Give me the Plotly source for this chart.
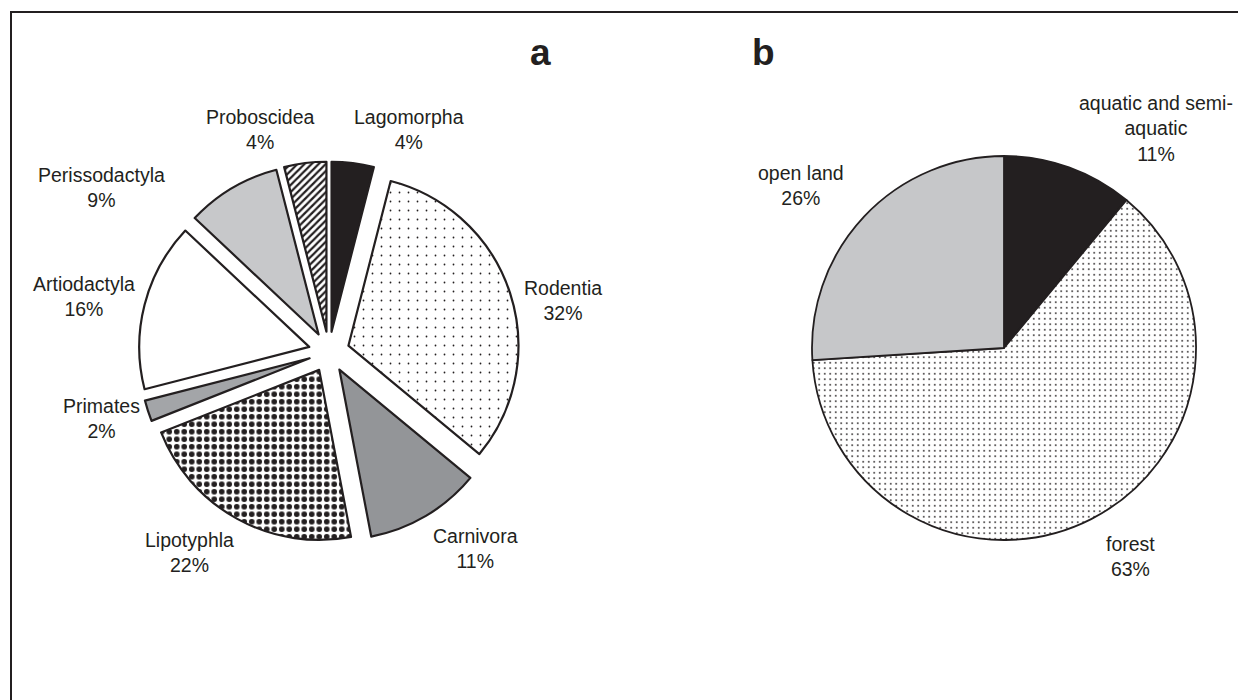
import plotly.graph_objects as go

W, H = 1246, 700
OFF = 8  # page body margin in the browser

# ---- data: panel a (orders) ----
orders = ["Lagomorpha", "Rodentia", "Carnivora", "Lipotyphla", "Primates",
          "Artiodactyla", "Perissodactyla", "Proboscidea"]
order_pct = [4, 32, 11, 22, 2, 16, 9, 4]

# ---- data: panel b (habitat) ----
habitats = ["aquatic and semi-<br>aquatic", "forest", "open land"]
habitat_pct = [11, 63, 26]

panel_titles = ["a", "b"]

# ---- styles ----
INK = "#231f20"
a_colors = [INK, "white", "#939598", "white", "#a3a5a8", "white", "#c7c8ca", "white"]
a_shapes = ["", ".", "", ".", "", "", "", "/"]
a_size = [8, 9, 8, 7.5, 8, 8, 8, 5]
a_solid = [0.3, 0.03, 0.3, 0.45, 0.3, 0.3, 0.3, 0.45]

b_colors = [INK, "white", "#c6c7c9"]
b_shapes = ["", ".", ""]
b_size = [8, 5.5, 8]
b_solid = [0.3, 0.08, 0.3]

# label block centres (pixels, screen)
a_label_pos = [(409, 130), (563, 300), (475, 548), (189, 552), (101, 418),
               (84, 297), (102, 187), (261, 130)]
b_label_pos = [(1156, 129), (1130, 556), (801, 185)]
title_pos = [(540, 53), (763, 53)]

def px_x(x):
    return (x - OFF) / W

def px_y(y):
    return 1 - (y - OFF) / H

fig = go.Figure()

# panel a pie: centre (329, 352), radius 170, pull 0.12
pull = 0.12
ca = (329, 352)
ra = 170
half = ra * (1 + pull)
fig.add_trace(go.Pie(
    labels=orders, values=order_pct, sort=False, direction="clockwise", rotation=0,
    pull=[pull] * len(orders), textinfo="none", showlegend=False,
    marker=dict(colors=a_colors, line=dict(color=INK, width=2.2),
                pattern=dict(shape=a_shapes, fgcolor=INK, bgcolor=a_colors,
                             size=a_size, solidity=a_solid, fillmode="replace")),
    domain=dict(x=[px_x(ca[0] - half), px_x(ca[0] + half)],
                y=[px_y(ca[1] + half), px_y(ca[1] - half)]),
))

cb = (1004, 348)
rb = 192
fig.add_trace(go.Pie(
    labels=habitats, values=habitat_pct, sort=False, direction="clockwise", rotation=0,
    textinfo="none", showlegend=False,
    marker=dict(colors=b_colors, line=dict(color=INK, width=1.8),
                pattern=dict(shape=b_shapes, fgcolor=INK, bgcolor=b_colors,
                             size=b_size, solidity=b_solid, fillmode="replace")),
    domain=dict(x=[px_x(cb[0] - rb), px_x(cb[0] + rb)],
                y=[px_y(cb[1] + rb), px_y(cb[1] - rb)]),
))

FONT = "Liberation Sans, Arial, sans-serif"
annotations = []
for name, pct, (x, y) in zip(orders, order_pct, a_label_pos):
    annotations.append(dict(text=f"{name}<br>{pct}%", x=px_x(x), y=px_y(y),
                            xref="paper", yref="paper", showarrow=False,
                            xanchor="center", yanchor="middle",
                            font=dict(family=FONT, size=19.5, color=INK)))
for name, pct, (x, y) in zip(habitats, habitat_pct, b_label_pos):
    annotations.append(dict(text=f"{name}<br>{pct}%", x=px_x(x), y=px_y(y),
                            xref="paper", yref="paper", showarrow=False,
                            xanchor="center", yanchor="middle",
                            font=dict(family=FONT, size=19.5, color=INK)))
for t, (x, y) in zip(panel_titles, title_pos):
    annotations.append(dict(text=f"<b>{t}</b>", x=px_x(x), y=px_y(y),
                            xref="paper", yref="paper", showarrow=False,
                            xanchor="center", yanchor="middle",
                            font=dict(family=FONT, size=37, color=INK)))

fig.update_layout(
    width=W, height=H, margin=dict(l=0, r=0, t=0, b=0),
    paper_bgcolor="white", plot_bgcolor="white",
    annotations=annotations,
    shapes=[dict(type="rect", xref="paper", yref="paper",
                 x0=px_x(11), x1=1.02, y0=-0.02, y1=px_y(12),
                 line=dict(color=INK, width=2), fillcolor="rgba(0,0,0,0)")],
)

fig.write_html("out.html")
